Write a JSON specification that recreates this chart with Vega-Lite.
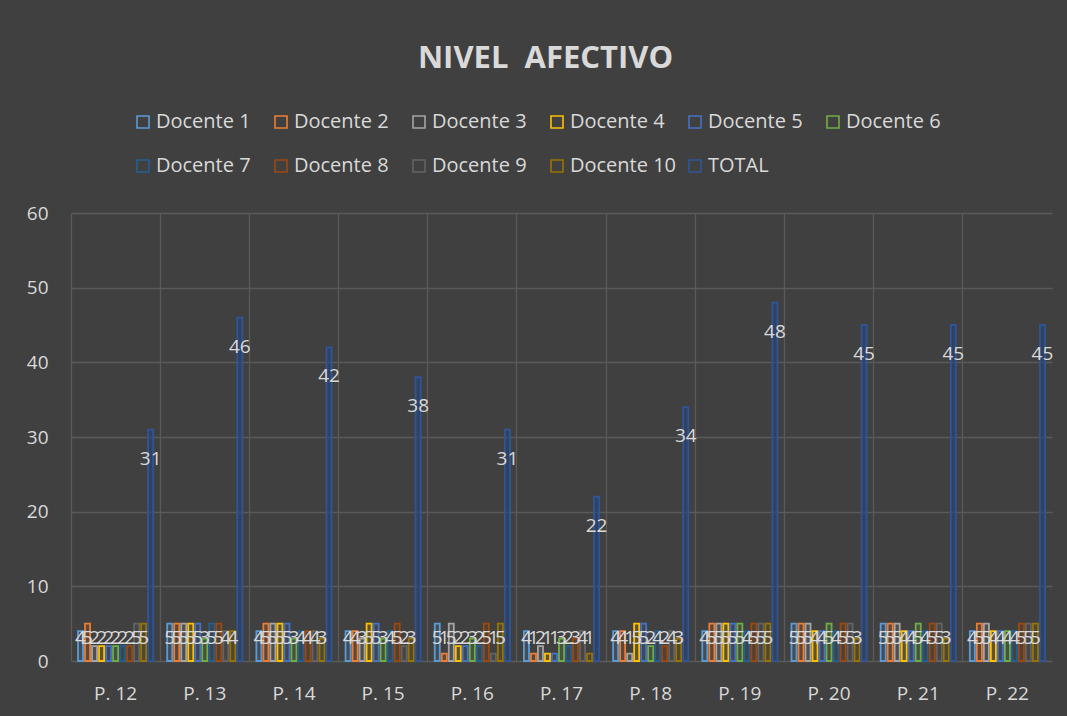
{
  "$schema": "https://vega.github.io/schema/vega-lite/v6.json",
  "width": 981,
  "height": 448,
  "autosize": {"type": "none"},
  "padding": {"left": 71, "top": 213, "right": 15, "bottom": 55},
  "background": "#404040",
  "config": {"view": {"stroke": null}, "font": "Open Sans"},
  "title": {"text": "NIVEL\u00a0 AFECTIVO", "fontSize": 31, "fontWeight": "bold", "color": "#D9D9D9", "font": "Open Sans", "anchor": "middle", "dx": -16, "offset": 37},
  "data": {"values": [
    {"p":"P. 12","s":"Docente 1","v":4},{"p":"P. 12","s":"Docente 2","v":5},{"p":"P. 12","s":"Docente 3","v":2},{"p":"P. 12","s":"Docente 4","v":2},{"p":"P. 12","s":"Docente 5","v":2},{"p":"P. 12","s":"Docente 6","v":2},{"p":"P. 12","s":"Docente 7","v":2},{"p":"P. 12","s":"Docente 8","v":2},{"p":"P. 12","s":"Docente 9","v":5},{"p":"P. 12","s":"Docente 10","v":5},{"p":"P. 12","s":"TOTAL","v":31},
    {"p":"P. 13","s":"Docente 1","v":5},{"p":"P. 13","s":"Docente 2","v":5},{"p":"P. 13","s":"Docente 3","v":5},{"p":"P. 13","s":"Docente 4","v":5},{"p":"P. 13","s":"Docente 5","v":5},{"p":"P. 13","s":"Docente 6","v":3},{"p":"P. 13","s":"Docente 7","v":5},{"p":"P. 13","s":"Docente 8","v":5},{"p":"P. 13","s":"Docente 9","v":4},{"p":"P. 13","s":"Docente 10","v":4},{"p":"P. 13","s":"TOTAL","v":46},
    {"p":"P. 14","s":"Docente 1","v":4},{"p":"P. 14","s":"Docente 2","v":5},{"p":"P. 14","s":"Docente 3","v":5},{"p":"P. 14","s":"Docente 4","v":5},{"p":"P. 14","s":"Docente 5","v":5},{"p":"P. 14","s":"Docente 6","v":3},{"p":"P. 14","s":"Docente 7","v":4},{"p":"P. 14","s":"Docente 8","v":4},{"p":"P. 14","s":"Docente 9","v":4},{"p":"P. 14","s":"Docente 10","v":3},{"p":"P. 14","s":"TOTAL","v":42},
    {"p":"P. 15","s":"Docente 1","v":4},{"p":"P. 15","s":"Docente 2","v":4},{"p":"P. 15","s":"Docente 3","v":3},{"p":"P. 15","s":"Docente 4","v":5},{"p":"P. 15","s":"Docente 5","v":5},{"p":"P. 15","s":"Docente 6","v":3},{"p":"P. 15","s":"Docente 7","v":4},{"p":"P. 15","s":"Docente 8","v":5},{"p":"P. 15","s":"Docente 9","v":2},{"p":"P. 15","s":"Docente 10","v":3},{"p":"P. 15","s":"TOTAL","v":38},
    {"p":"P. 16","s":"Docente 1","v":5},{"p":"P. 16","s":"Docente 2","v":1},{"p":"P. 16","s":"Docente 3","v":5},{"p":"P. 16","s":"Docente 4","v":2},{"p":"P. 16","s":"Docente 5","v":2},{"p":"P. 16","s":"Docente 6","v":3},{"p":"P. 16","s":"Docente 7","v":2},{"p":"P. 16","s":"Docente 8","v":5},{"p":"P. 16","s":"Docente 9","v":1},{"p":"P. 16","s":"Docente 10","v":5},{"p":"P. 16","s":"TOTAL","v":31},
    {"p":"P. 17","s":"Docente 1","v":4},{"p":"P. 17","s":"Docente 2","v":1},{"p":"P. 17","s":"Docente 3","v":2},{"p":"P. 17","s":"Docente 4","v":1},{"p":"P. 17","s":"Docente 5","v":1},{"p":"P. 17","s":"Docente 6","v":3},{"p":"P. 17","s":"Docente 7","v":2},{"p":"P. 17","s":"Docente 8","v":3},{"p":"P. 17","s":"Docente 9","v":4},{"p":"P. 17","s":"Docente 10","v":1},{"p":"P. 17","s":"TOTAL","v":22},
    {"p":"P. 18","s":"Docente 1","v":4},{"p":"P. 18","s":"Docente 2","v":4},{"p":"P. 18","s":"Docente 3","v":1},{"p":"P. 18","s":"Docente 4","v":5},{"p":"P. 18","s":"Docente 5","v":5},{"p":"P. 18","s":"Docente 6","v":2},{"p":"P. 18","s":"Docente 7","v":4},{"p":"P. 18","s":"Docente 8","v":2},{"p":"P. 18","s":"Docente 9","v":4},{"p":"P. 18","s":"Docente 10","v":3},{"p":"P. 18","s":"TOTAL","v":34},
    {"p":"P. 19","s":"Docente 1","v":4},{"p":"P. 19","s":"Docente 2","v":5},{"p":"P. 19","s":"Docente 3","v":5},{"p":"P. 19","s":"Docente 4","v":5},{"p":"P. 19","s":"Docente 5","v":5},{"p":"P. 19","s":"Docente 6","v":5},{"p":"P. 19","s":"Docente 7","v":4},{"p":"P. 19","s":"Docente 8","v":5},{"p":"P. 19","s":"Docente 9","v":5},{"p":"P. 19","s":"Docente 10","v":5},{"p":"P. 19","s":"TOTAL","v":48},
    {"p":"P. 20","s":"Docente 1","v":5},{"p":"P. 20","s":"Docente 2","v":5},{"p":"P. 20","s":"Docente 3","v":5},{"p":"P. 20","s":"Docente 4","v":4},{"p":"P. 20","s":"Docente 5","v":4},{"p":"P. 20","s":"Docente 6","v":5},{"p":"P. 20","s":"Docente 7","v":4},{"p":"P. 20","s":"Docente 8","v":5},{"p":"P. 20","s":"Docente 9","v":5},{"p":"P. 20","s":"Docente 10","v":3},{"p":"P. 20","s":"TOTAL","v":45},
    {"p":"P. 21","s":"Docente 1","v":5},{"p":"P. 21","s":"Docente 2","v":5},{"p":"P. 21","s":"Docente 3","v":5},{"p":"P. 21","s":"Docente 4","v":4},{"p":"P. 21","s":"Docente 5","v":4},{"p":"P. 21","s":"Docente 6","v":5},{"p":"P. 21","s":"Docente 7","v":4},{"p":"P. 21","s":"Docente 8","v":5},{"p":"P. 21","s":"Docente 9","v":5},{"p":"P. 21","s":"Docente 10","v":3},{"p":"P. 21","s":"TOTAL","v":45},
    {"p":"P. 22","s":"Docente 1","v":4},{"p":"P. 22","s":"Docente 2","v":5},{"p":"P. 22","s":"Docente 3","v":5},{"p":"P. 22","s":"Docente 4","v":4},{"p":"P. 22","s":"Docente 5","v":4},{"p":"P. 22","s":"Docente 6","v":4},{"p":"P. 22","s":"Docente 7","v":4},{"p":"P. 22","s":"Docente 8","v":5},{"p":"P. 22","s":"Docente 9","v":5},{"p":"P. 22","s":"Docente 10","v":5},{"p":"P. 22","s":"TOTAL","v":45}
  ]},
  "encoding": {
    "x": {"field": "p", "type": "nominal", "sort": null, "title": null,
      "scale": {"paddingInner": 0, "paddingOuter": 0},
      "axis": {"labelAngle": 0, "labelColor": "#D9D9D9", "labelFontSize": 19, "labelPadding": 23, "ticks": false, "domain": false, "grid": true, "gridColor": "#5A5A5A", "gridWidth": 1.3, "bandPosition": 0}},
    "xOffset": {"field": "s", "type": "nominal",
      "scale": {"domain": ["Docente 1","Docente 2","Docente 3","Docente 4","Docente 5","Docente 6","Docente 7","Docente 8","Docente 9","Docente 10","TOTAL"], "paddingInner": 0.28, "paddingOuter": 1.1}}
  },
  "layer": [
    {
      "mark": {"type": "bar", "strokeWidth": 1.8},
      "encoding": {
        "y": {"field": "v", "type": "quantitative", "title": null,
          "scale": {"domain": [0, 60]},
          "axis": {"values": [0,10,20,30,40,50,60], "labelColor": "#D9D9D9", "labelFontSize": 19, "labelPadding": 23, "ticks": false, "domain": false, "gridColor": "#5A5A5A", "gridWidth": 1.3}},
        "color": {"field": "s", "type": "nominal",
          "scale": {"domain": ["Docente 1","Docente 2","Docente 3","Docente 4","Docente 5","Docente 6","Docente 7","Docente 8","Docente 9","Docente 10","TOTAL"],
                    "range": ["#5B9BD5","#ED7D31","#A5A5A5","#FFC000","#4472C4","#70AD47","#255E91","#9E480E","#636363","#997300","#264478"]},
          "legend": {"orient": "none", "legendX": 62, "legendY": -101, "columns": 6, "direction": "horizontal", "title": null, "padding": 0,
            "symbolType": "square", "symbolSize": 144, "symbolStrokeWidth": 1.6,
            "labelFontSize": 20, "labelColor": "#D9D9D9", "labelOffset": 3, "gridAlign": "all", "columnPadding": 8, "rowPadding": 24,
            "encode": {"symbols": {"update": {"fill": {"value": "transparent"}, "fillOpacity": {"value": 0}, "stroke": {"scale": "color", "field": "value"}, "opacity": {"value": 1}}}}}},
        "stroke": {"field": "s", "type": "nominal", "legend": null,
          "scale": {"domain": ["Docente 1","Docente 2","Docente 3","Docente 4","Docente 5","Docente 6","Docente 7","Docente 8","Docente 9","Docente 10","TOTAL"],
                    "range": ["#5B9BD5","#ED7D31","#A5A5A5","#FFC000","#4472C4","#70AD47","#255E91","#9E480E","#636363","#997300","#2F5597"]}},
        "fillOpacity": {"condition": {"test": "datum.s === 'TOTAL'", "value": 0.6}, "value": 0.15}
      }
    },
    {
      "transform": [{"filter": "datum.s !== 'TOTAL'"}],
      "mark": {"type": "text", "fontSize": 19, "color": "#D9D9D9", "baseline": "middle"},
      "encoding": {"y": {"datum": 3.1, "type": "quantitative", "title": null}, "text": {"field": "v", "type": "quantitative"}}
    },
    {
      "transform": [{"filter": "datum.s === 'TOTAL'"}],
      "mark": {"type": "text", "fontSize": 19, "color": "#D9D9D9", "baseline": "middle", "dy": 29},
      "encoding": {"y": {"field": "v", "type": "quantitative", "title": null}, "text": {"field": "v", "type": "quantitative"}}
    }
  ]
}
